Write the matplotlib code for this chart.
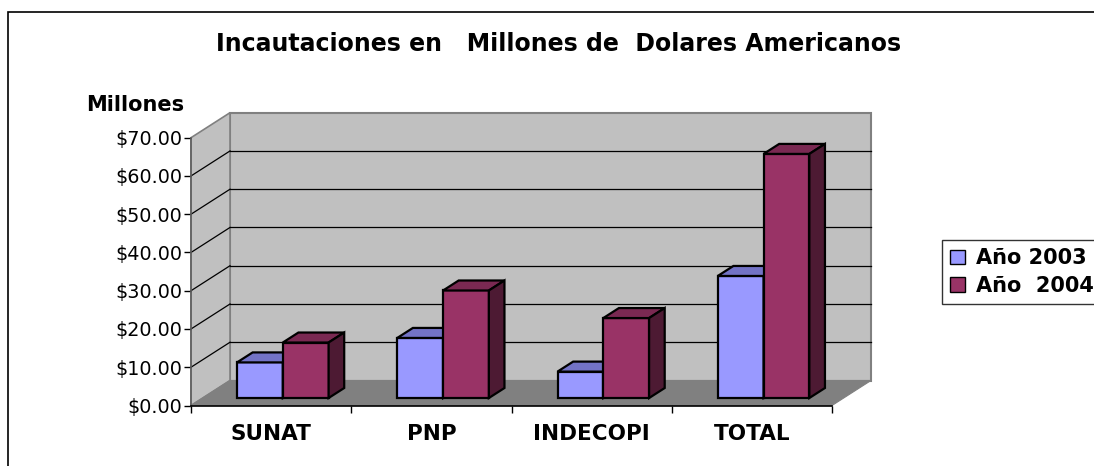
import numpy as np
import matplotlib
matplotlib.use("Agg")
import matplotlib.pyplot as plt
from matplotlib.patches import Polygon, Rectangle, Patch

categories = ["SUNAT", "PNP", "INDECOPI", "TOTAL"]
series_names = ["Año 2003", "Año  2004"]
values_2003 = [9.3, 15.7, 6.9, 31.9]
values_2004 = [14.5, 28.1, 20.9, 63.8]
yticks = [0, 10, 20, 30, 40, 50, 60, 70]
ytick_labels = ["$%.2f" % v for v in yticks]

front_col = ["#9999FF", "#993366"]
top_col = ["#7373C6", "#7A2952"]
side_col = ["#5C5C99", "#4D1A33"]

W, H = 1094, 466
fig = plt.figure(figsize=(W / 100, H / 100), dpi=100)
fig.patch.set_facecolor("white")

# front plane of the 3d box: x 0..4 (categories), y 0..70
ax = fig.add_axes([191 / W, (H - 405.5) / H, 641 / W, 267.8 / H])
ax.set_xlim(0, len(categories))
ax.set_ylim(0, 70)
ax.patch.set_visible(False)

# depth of the box in data units (oblique projection)
ddx = 39 / 641 * len(categories)
ddy = 25 / 267.8 * 70
ymax = yticks[-1]
nc = len(categories)

# walls
left_wall = Polygon([(0, 0), (0, ymax), (ddx, ymax + ddy), (ddx, ddy)], closed=True,
                    facecolor="#C0C0C0", edgecolor="#808080", lw=1.2, zorder=1, clip_on=False)
back_wall = Rectangle((ddx, ddy), nc, ymax, facecolor="#C0C0C0", edgecolor="#808080",
                      lw=1.5, zorder=1, clip_on=False)
ax.add_patch(back_wall)
ax.add_patch(left_wall)
for v in yticks[1:-1]:
    ax.plot([0, ddx], [v, v + ddy], color="black", lw=0.9, zorder=2, clip_on=False)
    ax.plot([ddx, ddx + nc], [v + ddy, v + ddy], color="black", lw=0.9, zorder=2, clip_on=False)
floor = Polygon([(0, 0), (nc, 0), (nc + ddx, ddy), (ddx, ddy)], closed=True,
                facecolor="#808080", edgecolor="#808080", lw=0.8, zorder=3, clip_on=False)
ax.add_patch(floor)

# bars
w = 1 / 3.5
f0, f1 = 0.3, 0.7
bx, by = (f1 - f0) * ddx, (f1 - f0) * ddy
x = np.arange(nc)
z = 4
for i in range(nc):
    for j, vals in enumerate([values_2003, values_2004]):
        left = x[i] + 0.5 - w + j * w + f0 * ddx
        base = f0 * ddy
        top = base + vals[i]
        ax.bar(left, vals[i], width=w, bottom=base, align="edge", color=front_col[j],
               edgecolor="black", lw=1.6, zorder=z, clip_on=False)
        ax.add_patch(Polygon([(left, top), (left + w, top), (left + w + bx, top + by),
                              (left + bx, top + by)], closed=True, facecolor=top_col[j],
                             edgecolor="black", lw=1.6, zorder=z, clip_on=False))
        ax.add_patch(Polygon([(left + w, base), (left + w, top), (left + w + bx, top + by),
                              (left + w + bx, base + by)], closed=True, facecolor=side_col[j],
                             edgecolor="black", lw=1.6, zorder=z, clip_on=False))
        z += 1

# axes
for s in ["top", "right"]:
    ax.spines[s].set_visible(False)
ax.spines["left"].set_color("#606060")
ax.spines["left"].set_linewidth(1.2)
ax.spines["bottom"].set_color("black")
ax.spines["bottom"].set_linewidth(1.2)
ax.spines["left"].set_zorder(20)
ax.spines["bottom"].set_zorder(20)

ax.set_yticks(yticks)
ax.set_yticklabels(ytick_labels, fontsize=13.8, family="DejaVu Sans")
ax.tick_params(axis="y", direction="out", length=5, width=1, color="black", pad=1.5)

ax.set_xticks(np.arange(nc + 1))
ax.set_xticklabels([])
ax.set_xticks(x + 0.5, minor=True)
ax.set_xticklabels(categories, minor=True, fontsize=15.5, fontweight="bold")
ax.tick_params(axis="x", which="major", direction="out", length=5, width=1, color="black")
ax.tick_params(axis="x", which="minor", length=0, pad=13)

fig.text(559 / W, 1 - 44 / H, "Incautaciones en   Millones de  Dolares Americanos",
         ha="center", va="center", fontsize=17, fontweight="bold")
fig.text(135 / W, 1 - 105 / H, "Millones", ha="center", va="center", fontsize=15,
         fontweight="bold")

# outer chart frame (runs off the right and bottom)
fig.patches.append(Rectangle((8 / W, -0.1), 1.2, 1.1 - 12 / H, transform=fig.transFigure,
                             fill=False, edgecolor="black", lw=1.2))

handles = [Patch(facecolor=front_col[k], edgecolor="black", lw=1) for k in range(2)]
leg = fig.legend(handles, series_names, loc="upper left",
                 bbox_to_anchor=(942 / W, 1 - 240 / H), frameon=True, fancybox=False,
                 prop={"weight": "bold", "size": 15}, handlelength=0.7, handleheight=0.7,
                 handletextpad=0.55, borderpad=0.4, labelspacing=0.35, borderaxespad=0)
leg.get_frame().set_edgecolor("black")
leg.get_frame().set_linewidth(1)

fig.savefig("out.png", dpi=100)
